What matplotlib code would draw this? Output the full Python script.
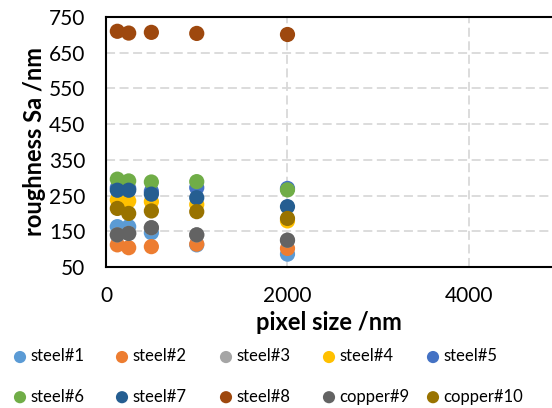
import matplotlib.pyplot as plt

plt.rcParams['font.family'] = ['Lato', 'DejaVu Sans']

# pixel size (nm) shared by every sample
pixel_size = [125, 250, 500, 1000, 2000]

names = ['steel#1', 'steel#2', 'steel#3', 'steel#4', 'steel#5',
         'steel#6', 'steel#7', 'steel#8', 'copper#9', 'copper#10']
colors = ['#5B9BD5', '#ED7D31', '#A5A5A5', '#FFC000', '#4472C4',
          '#70AD47', '#255E91', '#9E480E', '#636363', '#997300']

steel1 = [163, 163, 146, 112, 86]
steel2 = [112, 104, 107, 114, 102]
steel3 = [140, 144, 160, 140, 125]
steel4 = [238, 235, 233, 225, 179]
steel5 = [272, 270, 262, 272, 270]
steel6 = [296, 291, 288, 289, 266]
steel7 = [265, 265, 254, 244, 219]
steel8 = [710, 705, 707, 704, 701]
copper9 = [140, 144, 160, 140, 125]
copper10 = [214, 200, 207, 205, 186]

series = [steel1, steel2, steel3, steel4, steel5,
          steel6, steel7, steel8, copper9, copper10]

fig = plt.figure(figsize=(5.52, 4.08), dpi=100)
ax = fig.add_axes([106/552, 1-267/408, 1-106/552, 250/408])

handles = []
for name, col, vals in zip(names, colors, series):
    h = ax.scatter(pixel_size, vals, s=120, color=col, label=name,
                   edgecolors='none', zorder=3)
    handles.append(h)

ax.set_xlim(0, 4915)
ax.set_ylim(50, 750)
ax.set_xticks([0, 2000, 4000])
ax.set_yticks(range(50, 751, 100))
ax.tick_params(length=0, labelsize=15)
ax.tick_params(axis='x', pad=14)
ax.tick_params(axis='y', pad=15)
ax.grid(True, color='#D9D9D9', linestyle=(0, (5, 2.5)), linewidth=1.3)
ax.set_axisbelow(True)
for s in ['left', 'top', 'bottom']:
    ax.spines[s].set_linewidth(1.5)
    ax.spines[s].set_color('black')
ax.spines['right'].set_visible(False)

ax.set_xlabel('pixel size /nm', fontsize=17, fontweight='bold', labelpad=3)
ax.set_ylabel('roughness Sa /nm', fontsize=17, fontweight='bold', labelpad=2)

# one small legend per column so the columns sit at even spacing
col_x = [20, 122, 226, 329, 433]
fs = 12
for c in range(5):
    hs = [handles[c], handles[c + 5]]
    ls = [names[c], names[c + 5]]
    fig.legend(hs, ls, loc='center left',
               bbox_to_anchor=((col_x[c] - 0.5 * fs * 100 / 72) / 552, 1 - 376.5/408),
               frameon=False, fontsize=fs, markerscale=0.8,
               handletextpad=0.1, labelspacing=1.45, handlelength=1.0,
               borderpad=0, borderaxespad=0)

fig.savefig('out.png', dpi=100)
